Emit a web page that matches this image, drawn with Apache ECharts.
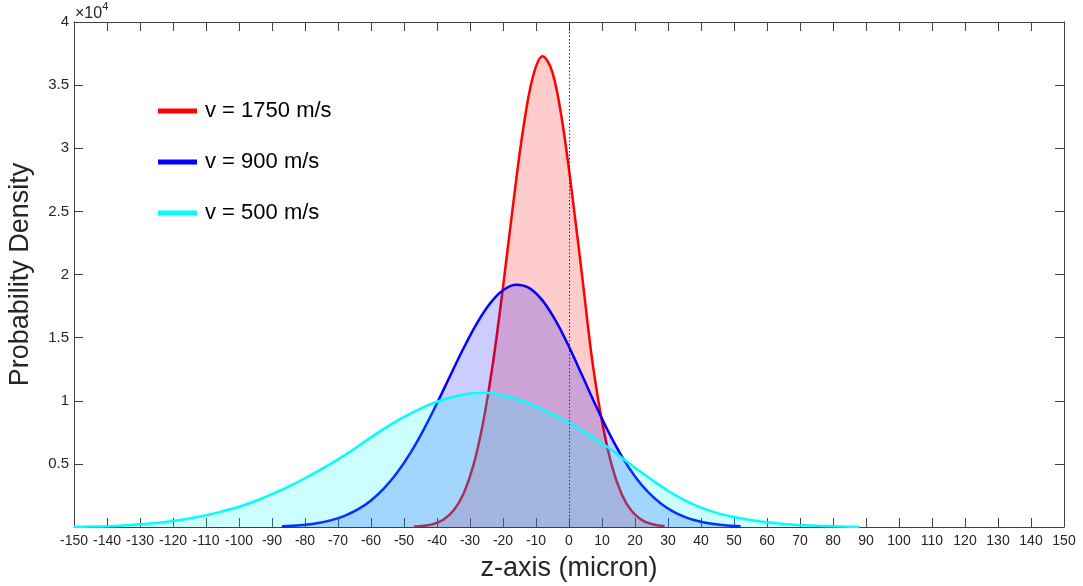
<!DOCTYPE html>
<html>
<head>
<meta charset="utf-8">
<script src="https://cdn.jsdelivr.net/npm/echarts@6/dist/echarts.min.js"></script>
<style>
html,body{margin:0;padding:0;background:#fff;}
#chart{width:1083px;height:586px;}
</style>
</head>
<body>
<div id="chart"></div>
<script>
// ---- data ----
const seriesNames = ['v = 1750 m/s', 'v = 900 m/s', 'v = 500 m/s'];

const redX = [-47, -44, -41, -38, -35, -32, -29, -26, -23, -20, -17, -14, -11, -8, -5, -2, 1, 4, 7, 10, 13, 16, 19, 22, 25, 29];
const redY = [35, 98, 251, 596, 1302, 2620, 4860, 8307, 13082, 18993, 25409, 31336, 35607, 37293, 35998, 32022, 26252, 19836, 13280, 8370, 4845, 2578, 1260, 566, 233, 63];

const blueX = [-87, -84, -80, -76, -72, -68, -64, -60, -56, -52, -48, -44, -40, -36, -32, -28, -24, -20, -16, -12, -8, -4, 0, 4, 8, 12, 16, 20, 24, 28, 32, 36, 40, 44, 48, 52];
const blueY = [65, 103, 186, 325, 546, 888, 1392, 2106, 3076, 4335, 5894, 7738, 9802, 11983, 14135, 16095, 17685, 18755, 19192, 18925, 17929, 16321, 14273, 11994, 9685, 7511, 5598, 4009, 2757, 1823, 1157, 707, 415, 233, 126, 66];

const cyanX = [-150, -145, -140, -135, -130, -125, -120, -115, -110, -105, -100, -95, -90, -85, -80, -75, -70, -65, -60, -55, -50, -45, -40, -35, -30, -25, -20, -15, -10, -5, 0, 5, 10, 15, 20, 25, 30, 35, 40, 45, 50, 55, 60, 65, 70, 75, 80, 85, 88];
const cyanY = [20, 35, 60, 120, 210, 320, 470, 680, 930, 1240, 1600, 2060, 2600, 3200, 3860, 4580, 5360, 6200, 7100, 7950, 8720, 9380, 9920, 10320, 10580, 10640, 10420, 10060, 9560, 8940, 8250, 7480, 6650, 5680, 4700, 3760, 2870, 2120, 1530, 1100, 790, 550, 370, 245, 160, 95, 50, 28, 20];

const xMin = -150, xMax = 150, xStep = 10;
const yMin = 0, yMax = 40000, yStep = 5000;
const yScale = 10000;
const xTitle = 'z-axis (micron)';
const yTitle = 'Probability Density';

// ---- chart ----
const FONT = '"Liberation Sans", Arial, Helvetica, sans-serif';
const AX = '#404040';
const TXT = '#262626';

function pairs(xs, ys) { return xs.map((x, i) => [x, ys[i]]); }

const colors = ['#ff0000', '#0000ff', '#00ffff'];
const datas = [pairs(redX, redY), pairs(blueX, blueY), pairs(cyanX, cyanY)];

const chart = echarts.init(document.getElementById('chart'), null, {renderer: 'canvas'});

const series = datas.map((d, i) => ({
  name: seriesNames[i],
  type: 'line',
  data: d,
  z: 2 + i,
  smooth: 0.35,
  showSymbol: false,
  symbol: 'none',
  color: colors[i],
  lineStyle: {color: colors[i], width: 2.5},
  areaStyle: {color: colors[i], opacity: 0.2, origin: 'start'},
  emphasis: {disabled: true},
  animation: false
}));

series[2].markLine = {
  silent: true,
  symbol: ['none', 'none'],
  label: {show: false},
  lineStyle: {type: [1.5, 2], color: '#333', width: 1},
  data: [{xAxis: 0}],
  animation: false
};

const option = {
  backgroundColor: '#ffffff',
  animation: false,
  textStyle: {fontFamily: FONT},
  grid: {left: 74, right: 19, top: 22, bottom: 59, containLabel: false, outerBoundsMode: 'none'},
  legend: {
    orient: 'vertical',
    left: 158,
    top: 98,
    padding: 0,
    itemWidth: 39,
    itemHeight: 5,
    itemGap: 25,
    icon: 'rect',
    selectedMode: false,
    data: seriesNames,
    textStyle: {fontSize: 22, color: '#000', fontFamily: FONT, padding: [0, 0, 0, 3], lineHeight: 26}
  },
  xAxis: [{
    type: 'value', min: xMin, max: xMax, interval: xStep,
    position: 'bottom',
    name: xTitle, nameLocation: 'middle', nameGap: 28,
    nameTextStyle: {fontSize: 27, color: TXT, fontFamily: FONT},
    axisLine: {show: true, onZero: false, lineStyle: {color: AX, width: 1}},
    axisTick: {show: true, inside: true, length: 9, lineStyle: {color: AX}},
    axisLabel: {fontSize: 14, color: TXT, margin: 7, fontFamily: FONT},
    splitLine: {show: false}
  }, {
    type: 'value', min: xMin, max: xMax, interval: xStep,
    position: 'top',
    axisLine: {show: true, onZero: false, lineStyle: {color: AX, width: 1}},
    axisTick: {show: true, inside: true, length: 9, lineStyle: {color: AX}},
    axisLabel: {show: false},
    splitLine: {show: false}
  }],
  yAxis: [{
    type: 'value', min: yMin, max: yMax, interval: yStep,
    position: 'left',
    name: yTitle, nameLocation: 'middle', nameGap: 40,
    nameTextStyle: {fontSize: 27, color: TXT, fontFamily: FONT},
    axisLine: {show: true, onZero: false, lineStyle: {color: AX, width: 1}},
    axisTick: {show: true, inside: true, length: 9, lineStyle: {color: AX}},
    axisLabel: {fontSize: 15, color: TXT, margin: 5, fontFamily: FONT,
      formatter: v => v === 0 ? '' : String(+(v / yScale).toFixed(1))},
    splitLine: {show: false}
  }, {
    type: 'value', min: yMin, max: yMax, interval: yStep,
    position: 'right',
    axisLine: {show: true, onZero: false, lineStyle: {color: AX, width: 1}},
    axisTick: {show: true, inside: true, length: 9, lineStyle: {color: AX}},
    axisLabel: {show: false},
    splitLine: {show: false}
  }],
  graphic: [{
    type: 'text',
    left: 75, top: 1,
    style: {
      text: '{a|×10}{b|4}',
      rich: {
        a: {fontSize: 16, fill: TXT, fontFamily: FONT, verticalAlign: 'bottom', lineHeight: 21},
        b: {fontSize: 11, fill: TXT, fontFamily: FONT, verticalAlign: 'top', lineHeight: 21, padding: [0, 0, 9, 0]}
      }
    }
  }],
  series: series
};

chart.setOption(option);
</script>
</body>
</html>
